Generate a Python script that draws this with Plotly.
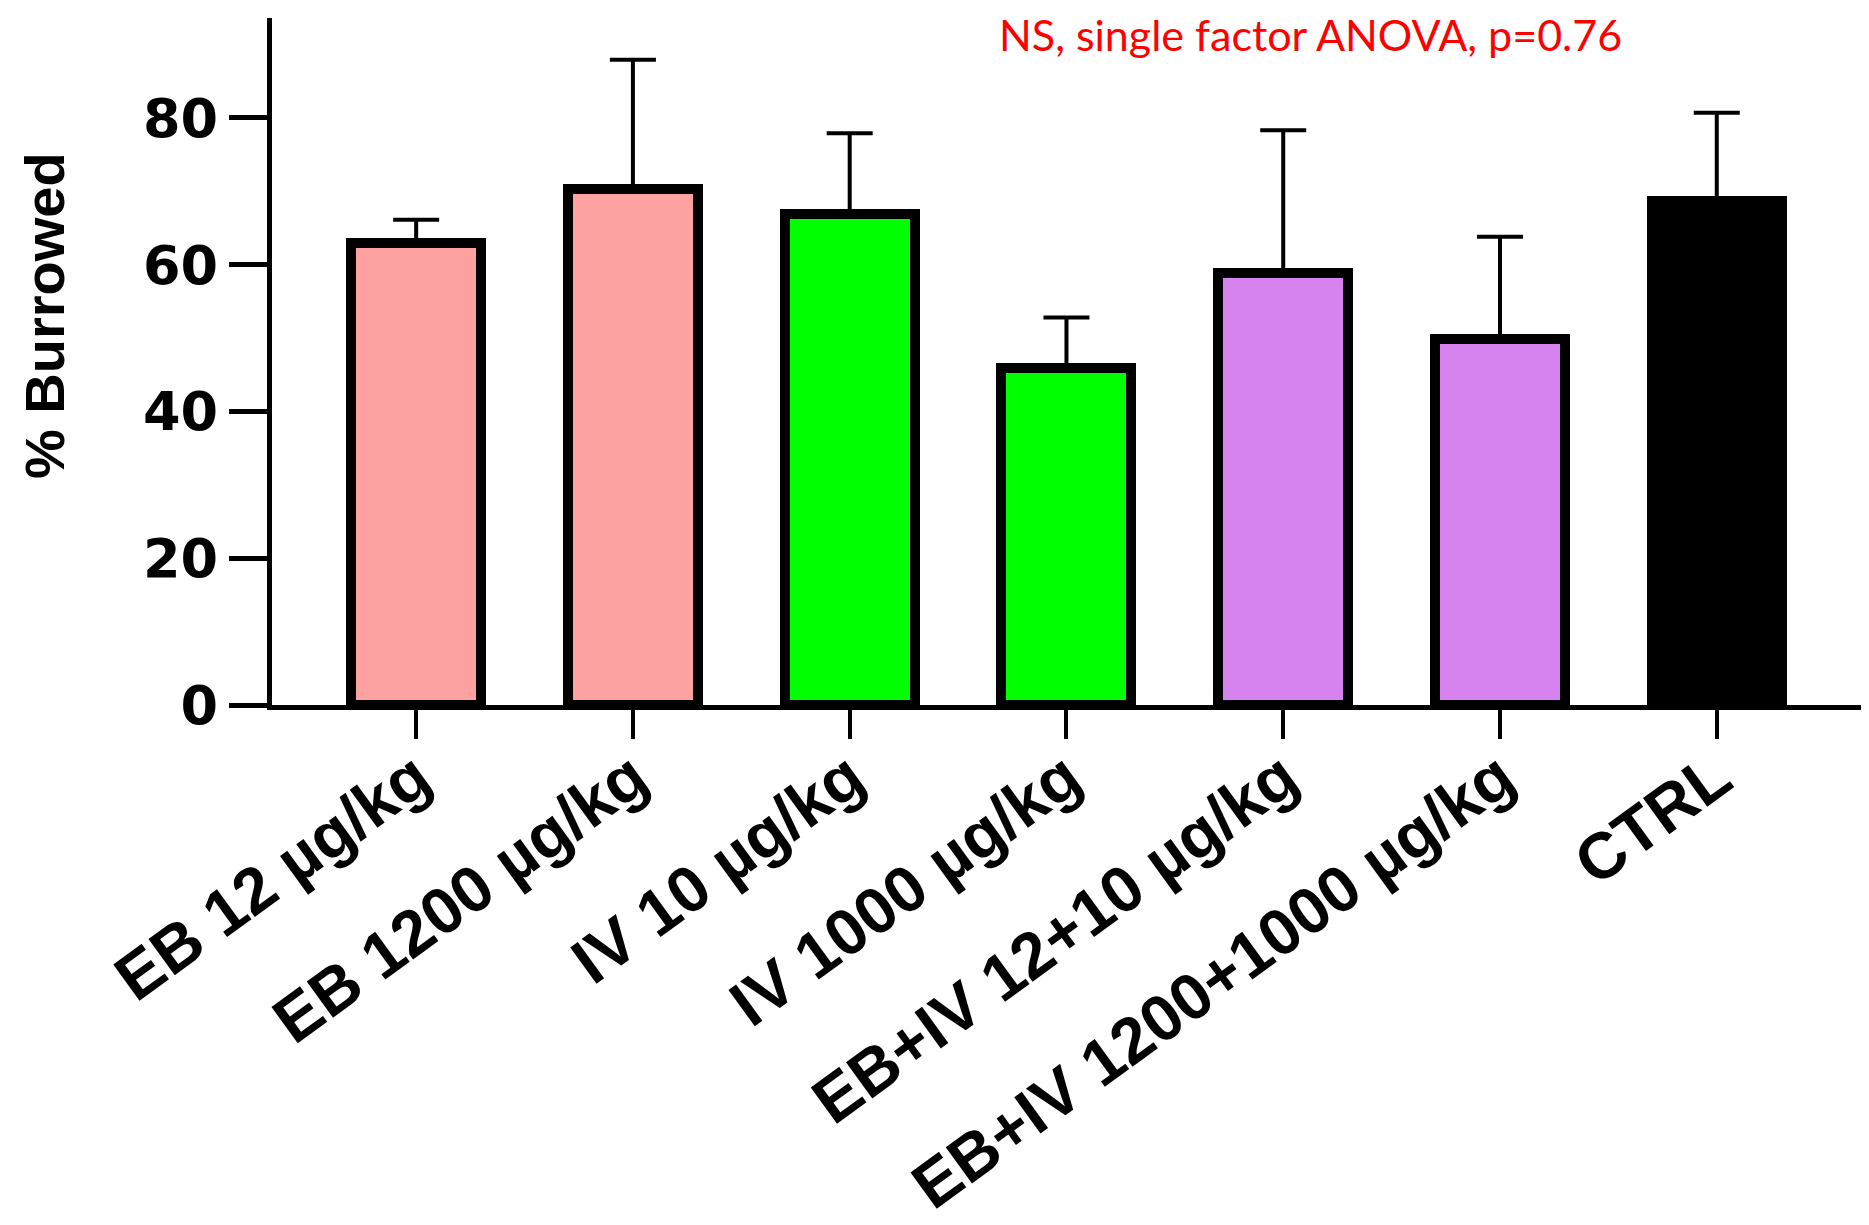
import plotly.graph_objects as go

categories = ["EB 12 µg/kg", "EB 1200 µg/kg", "IV 10 µg/kg", "IV 1000 µg/kg",
              "EB+IV 12+10 µg/kg", "EB+IV 1200+1000 µg/kg", "CTRL"]
means = [63.0, 70.3, 66.9, 45.9, 58.9, 49.8, 68.7]
err_plus = [3.1, 17.6, 11.0, 6.9, 19.4, 14.0, 12.0]
colors = ["#FDA1A1", "#FDA1A1", "#00FF00", "#00FF00", "#D783EF", "#D783EF", "#000000"]
y_ticks = [0, 20, 40, 60, 80]

W, H = 1861, 1217
fig = go.Figure()
fig.add_trace(go.Bar(
    x=list(range(len(categories))), y=means, width=0.6,
    marker=dict(color=colors, line=dict(color="black", width=10)),
    error_y=dict(type="data", array=err_plus, arrayminus=[0]*len(means),
                 symmetric=False, color="black", thickness=4, width=23),
    showlegend=False,
))

fig.update_layout(
    width=W, height=H,
    margin=dict(l=264, r=7, t=10, b=520, pad=0),
    paper_bgcolor="white", plot_bgcolor="white",
    bargap=0,
    xaxis=dict(
        range=[-0.665, 6.67], tickvals=list(range(len(categories))), ticktext=categories,
        tickangle=-36, ticks="outside", ticklen=29, tickwidth=4, tickcolor="black",
        showline=True, linecolor="black", linewidth=5, showgrid=False, zeroline=False,
        automargin=False, ticklabelstandoff=-25,
        tickfont=dict(family="Liberation Sans, Arial, sans-serif", size=65, color="black", weight="bold"),
    ),
    yaxis=dict(
        range=[0, 93.6], tickvals=y_ticks, ticks="outside", ticklen=38, tickwidth=5,
        tickcolor="black", showline=True, linecolor="black", linewidth=5,
        showgrid=False, zeroline=False, automargin=False,
        tickfont=dict(family="DejaVu Sans, sans-serif", size=54, color="black", weight="bold"),
    ),
    annotations=[
        dict(text="NS, single factor ANOVA, p=0.76", xref="paper", yref="paper",
             x=0.653, y=0.9767, xanchor="center", yanchor="middle", showarrow=False,
             font=dict(family="Lato, sans-serif", size=43, color="red")),
        dict(text="% Burrowed", xref="paper", yref="paper", textangle=-90,
             x=-0.143, y=0.567, xanchor="center", yanchor="middle", showarrow=False,
             font=dict(family="Liberation Sans, Arial, sans-serif", size=56, color="black", weight="bold")),
    ],
)

fig.write_html("out.html")
